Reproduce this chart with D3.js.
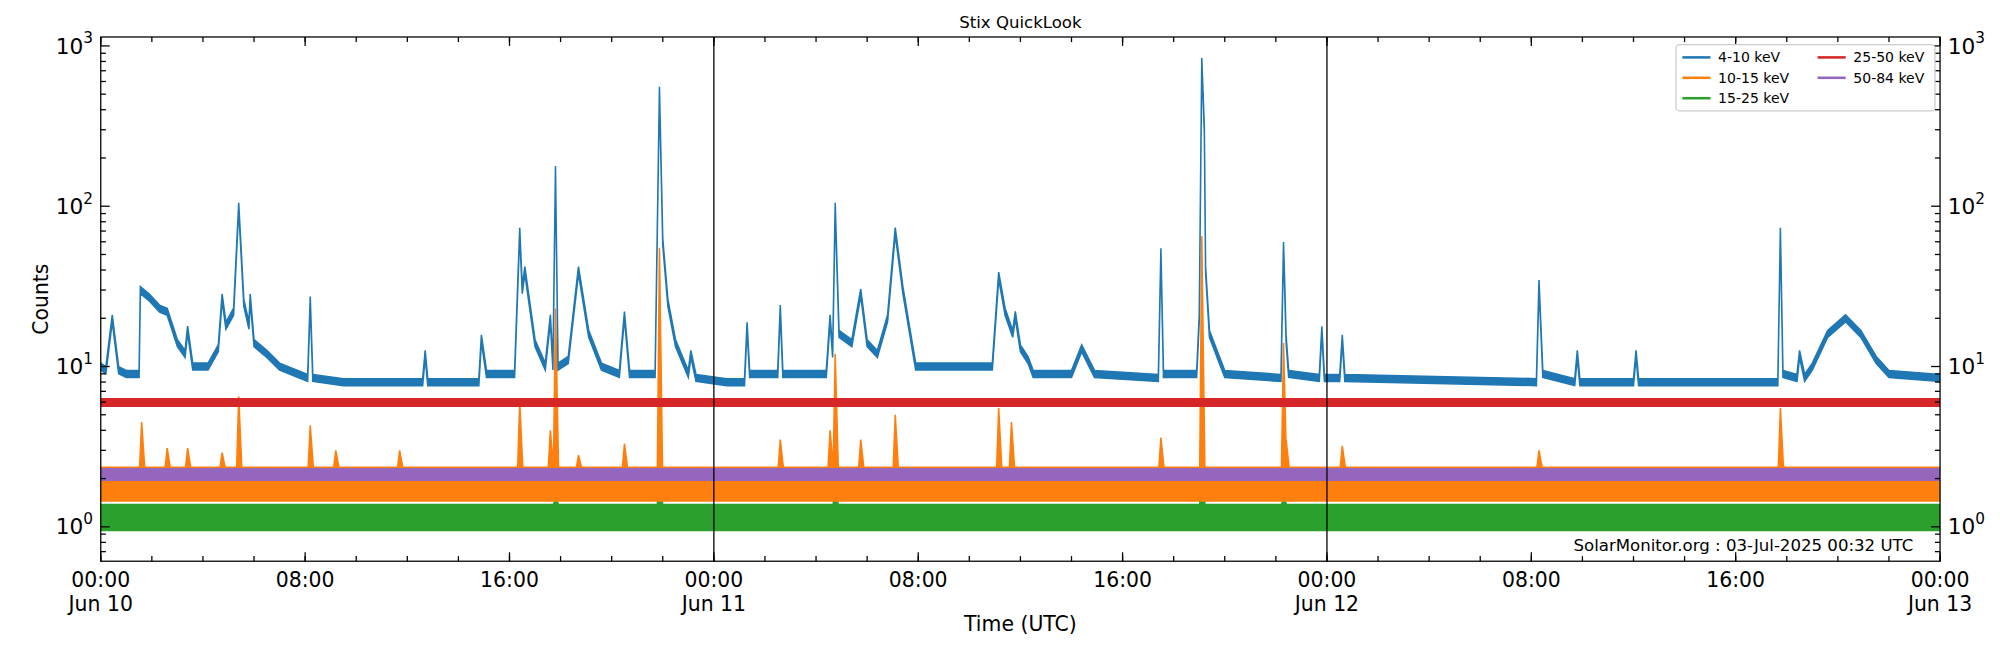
<!DOCTYPE html>
<html>
<head>
<meta charset="utf-8">
<script src="https://cdn.jsdelivr.net/npm/d3@7"></script>
<style>
  body { margin: 0; background: #fff; font-family: "DejaVu Sans", sans-serif; }
</style>
</head>
<body>
<svg id="chart" width="2000" height="650"></svg>
<script>
// hours since Jun 10 00:00
const blueTimes = [0, 0.2, 0.45, 0.7, 1.0, 1.5, 1.55, 1.9, 2.3, 2.6, 3.0, 3.3, 3.4, 3.6, 4.2, 4.6, 4.75, 4.9, 5.2, 5.4, 5.6, 5.8, 5.85, 6.0, 6.5, 7.0, 8.1, 8.2, 8.3, 9.5, 12.6, 12.7, 12.8, 14.8, 14.9, 15.1, 16.2, 16.4, 16.5, 16.6, 17.0, 17.4, 17.6, 17.7, 17.8, 17.9, 18.3, 18.7, 19.1, 19.6, 20.3, 20.5, 20.7, 21.7, 21.87, 22.0, 22.2, 22.5, 23.0, 23.1, 23.3, 24.5, 25.2, 25.3, 25.4, 26.5, 26.6, 26.7, 28.4, 28.55, 28.65, 28.75, 28.9, 29.4, 29.75, 30.0, 30.4, 30.8, 31.1, 31.4, 31.9, 34.9, 35.15, 35.4, 35.7, 35.8, 36.0, 36.3, 36.5, 38.0, 38.4, 38.9, 41.4, 41.5, 41.6, 42.9, 43.0, 43.1, 43.2, 43.25, 43.4, 44.0, 46.2, 46.3, 46.35, 46.4, 46.5, 47.7, 47.8, 47.9, 48.5, 48.6, 48.7, 56.2, 56.3, 56.45, 57.7, 57.8, 57.9, 60.0, 60.1, 60.2, 65.65, 65.75, 65.85, 66.4, 66.5, 66.7, 67.0, 67.6, 68.3, 68.9, 69.5, 70.0, 72];
const blueValues = [10, 9.5, 20, 9.5, 9, 9, 30, 27, 23, 22, 14, 12, 17, 10, 10, 13, 27, 18, 22, 100, 25, 18, 27, 14, 12, 10, 8.5, 26, 8.5, 8, 8, 12, 8, 8, 15, 9, 9, 70, 30, 40, 14, 10, 20, 10, 170, 10, 11, 40, 16, 10, 9, 21, 9, 9, 530, 60, 25, 14, 9, 12, 8.5, 8, 8, 18, 9, 9, 23, 9, 9, 20, 12, 100, 16, 14, 29, 14, 12, 20, 70, 30, 10, 10, 37, 22, 16, 21, 13, 11, 9, 9, 13, 9, 8.5, 52, 9, 9, 20, 800, 300, 40, 16, 9, 8.5, 57, 30, 15, 9, 8.5, 17, 8.5, 8.5, 15, 8.5, 8, 33, 9, 8, 12, 8, 8, 12, 8, 8, 70, 9, 8.5, 12, 8.5, 10, 16, 20, 16, 11, 9, 8.5];

const orangeTimes = [1.6, 2.6, 3.4, 4.75, 5.4, 8.2, 9.2, 11.7, 16.4, 17.6, 17.8, 18.7, 20.5, 21.87, 26.6, 28.55, 28.75, 29.75, 31.1, 35.15, 35.65, 41.5, 43.1, 46.3, 46.4, 48.6, 56.3, 65.75];
const orangePeaks = [4.5, 3.1, 3.1, 2.9, 6.5, 4.3, 3.0, 3.0, 6.0, 4.0, 23, 2.8, 3.3, 55, 3.5, 4.0, 12, 3.5, 5.0, 5.5, 4.5, 3.6, 65, 14, 3.5, 3.2, 3.0, 5.5];
const greenTimes = [17.8, 21.87, 28.75, 43.1, 46.3];
const greenPeaks = [1.5, 5.0, 1.7, 4.0, 1.5];

// noise bands [low, high]
const redBand = [5.65, 6.3];
const purpleBand = [1.95, 2.3];
const orangeBand = [1.45, 2.35];
const greenBand = [0.95, 1.38];

const legendLabels = ["4-10 keV", "10-15 keV", "15-25 keV", "25-50 keV", "50-84 keV"];
const colors = ["#1f77b4", "#ff7f0e", "#2ca02c", "#d62728", "#9467bd"];
const dayLabels = ["Jun 10", "Jun 11", "Jun 12", "Jun 13"];

// layout measured on a 1568-wide copy, scaled up to 2000
const svg = d3.select("#chart").append("g").attr("transform", `scale(${2000 / 1568})`);
const m = { left: 79, right: 1521, top: 29, bottom: 440 };
const x = d3.scaleLinear().domain([0, 72]).range([m.left, m.right]);
const y = d3.scaleLog().domain([0.61, 1137]).range([m.bottom, m.top]);

svg.append("clipPath").attr("id", "clip").append("rect")
  .attr("x", m.left).attr("y", m.top).attr("width", m.right - m.left).attr("height", m.bottom - m.top);
const g = svg.append("g").attr("clip-path", "url(#clip)");

// band with spikes: upper edge rises to each peak
function spikeBand(band, times, peaks) {
  const pts = [[0, band[1]]];
  times.forEach((t, i) => {
    pts.push([t - 0.08, band[1]], [t, peaks[i]], [t + 0.12, band[1]]);
  });
  pts.push([72, band[1]]);
  return pts;
}
const area = d3.area().x(d => x(d[0])).y0(d => y(d[2])).y1(d => y(d[1]));

function drawBand(band, times, peaks, color) {
  const pts = spikeBand(band, times, peaks).map(p => [p[0], p[1], band[0]]);
  g.append("path").datum(pts).attr("d", area).attr("fill", color).attr("stroke", color).attr("stroke-width", 1.2);
}
drawBand(greenBand, greenTimes, greenPeaks, colors[2]);
drawBand(orangeBand, orangeTimes, orangePeaks, colors[1]);
drawBand(purpleBand, [], [], colors[4]);
drawBand(redBand, [], [], colors[3]);

// blue line with a thin noise band
const blue = blueTimes.map((t, i) => [t, blueValues[i] * 1.05, blueValues[i] * 0.95]);
g.append("path").datum(blue).attr("d", area).attr("fill", colors[0]).attr("stroke", colors[0]).attr("stroke-width", 1.2);

// day separators
[24, 48].forEach(h => {
  svg.append("line").attr("x1", x(h)).attr("x2", x(h)).attr("y1", m.top).attr("y2", m.bottom)
    .attr("stroke", "#000").attr("stroke-width", 1);
});

svg.append("rect").attr("x", m.left).attr("y", m.top).attr("width", m.right - m.left).attr("height", m.bottom - m.top)
  .attr("fill", "none").attr("stroke", "#000").attr("stroke-width", 1);

// y ticks (both sides, inward)
const majors = [1, 10, 100, 1000];
const minors = [];
for (let d = 0.1; d < 1000; d *= 10) for (let k = 2; k <= 9; k++) { const v = d * k; if (v > 0.61 && v < 1137) minors.push(v); }
[[m.left, 1], [m.right, -1]].forEach(([x0, dir]) => {
  majors.forEach(v => svg.append("line").attr("x1", x0).attr("x2", x0 + dir * 7).attr("y1", y(v)).attr("y2", y(v)).attr("stroke", "#000"));
  minors.forEach(v => svg.append("line").attr("x1", x0).attr("x2", x0 + dir * 4).attr("y1", y(v)).attr("y2", y(v)).attr("stroke", "#000"));
  majors.forEach((v, i) => {
    const t = svg.append("text").attr("y", y(v) + 6).attr("font-size", 17)
      .attr("x", dir > 0 ? x0 - 6 : x0 + 6).attr("text-anchor", dir > 0 ? "end" : "start");
    t.append("tspan").text("10");
    t.append("tspan").attr("dy", -8).attr("font-size", 12).text(i);
  });
});

// x ticks
const xMajor = d3.range(0, 73, 8);
const xMinor = d3.range(0, 73, 2);
[[m.bottom, -1], [m.top, 1]].forEach(([y0, dir]) => {
  xMajor.forEach(h => svg.append("line").attr("x1", x(h)).attr("x2", x(h)).attr("y1", y0).attr("y2", y0 + dir * 7).attr("stroke", "#000"));
  xMinor.forEach(h => svg.append("line").attr("x1", x(h)).attr("x2", x(h)).attr("y1", y0).attr("y2", y0 + dir * 4).attr("stroke", "#000"));
});
xMajor.forEach(h => {
  const hh = String(h % 24).padStart(2, "0") + ":00";
  svg.append("text").attr("x", x(h)).attr("y", m.bottom + 20).attr("text-anchor", "middle").attr("font-size", 16).text(hh);
  if (h % 24 === 0) svg.append("text").attr("x", x(h)).attr("y", m.bottom + 39).attr("text-anchor", "middle").attr("font-size", 16).text(dayLabels[h / 24]);
});

svg.append("text").attr("x", (m.left + m.right) / 2).attr("y", 495).attr("text-anchor", "middle").attr("font-size", 16).text("Time (UTC)");
svg.append("text").attr("transform", `translate(38,${(m.top + m.bottom) / 2}) rotate(-90)`).attr("text-anchor", "middle").attr("font-size", 16).text("Counts");
svg.append("text").attr("x", (m.left + m.right) / 2).attr("y", 22).attr("text-anchor", "middle").attr("font-size", 13).text("Stix QuickLook");
svg.append("text").attr("x", 1500).attr("y", 432).attr("text-anchor", "end").attr("font-size", 13).text("SolarMonitor.org : 03-Jul-2025 00:32 UTC");

// legend
const lg = svg.append("g").attr("transform", "translate(1314,35)");
lg.append("rect").attr("width", 203).attr("height", 52).attr("rx", 3).attr("fill", "#fff").attr("stroke", "#ccc");
legendLabels.forEach((lab, i) => {
  const col = i < 3 ? 0 : 1, row = i < 3 ? i : i - 3;
  const gx = 5 + col * 106, gy = 10 + row * 16;
  lg.append("line").attr("x1", gx).attr("x2", gx + 22).attr("y1", gy).attr("y2", gy).attr("stroke", colors[i]).attr("stroke-width", 2);
  lg.append("text").attr("x", gx + 28).attr("y", gy + 4).attr("font-size", 11).text(lab);
});
</script>
</body>
</html>
